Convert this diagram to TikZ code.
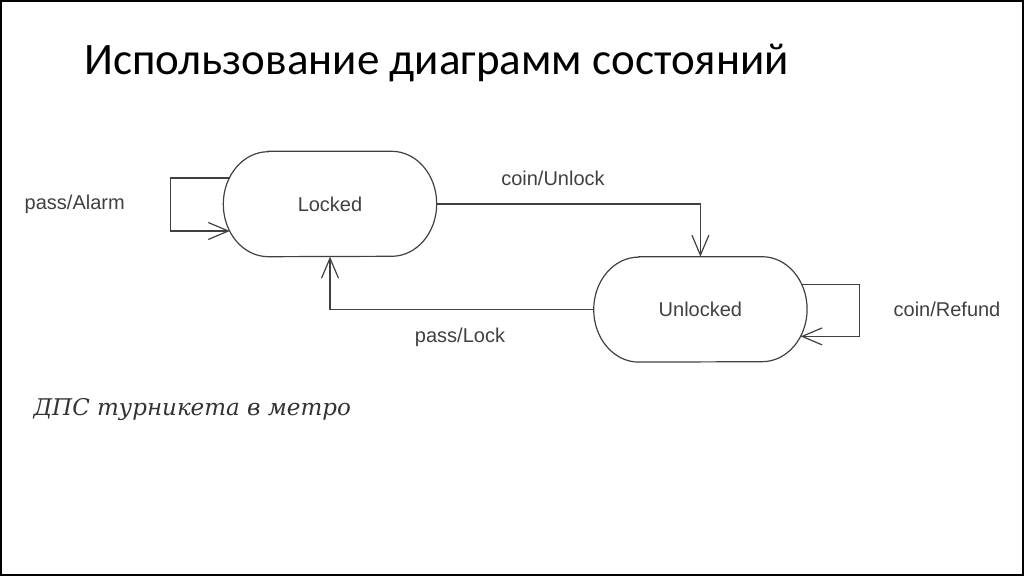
\documentclass[tikz,border=0pt]{standalone}
\usepackage{fontspec}
\setmainfont{Liberation Sans}
\newfontfamily\titlefont{Carlito}
\newfontfamily\capfont{DejaVu Serif}
\usetikzlibrary{positioning}
\usetikzlibrary{arrows.meta}

\tikzset{
	state/.style={minimum width=213pt, minimum height=105pt, inner sep=0pt, font=\fontsize{20}{24}\selectfont, text=black!75},
	border/.style={draw=black!75, line width=1.2pt},
	trans/.style={draw=black!75, line width=1.2pt, -{Straight Barb[length=20pt, width=17pt, line width=1.2pt]}},
	lbl/.style={font=\fontsize{20}{24}\selectfont, text=black!75},
}

\begin{document}
\begin{tikzpicture}[x=1pt, y=1pt]
		\draw[line width=2pt] (1,1) rectangle (1023,575);
		\node[anchor=base west, font=\titlefont\fontsize{45}{50}\selectfont] (title) at (81,501) {Использование диаграмм состояний};
		
		\node[state] (L) at (330,372) {Locked};
		\node[state, below right = 0pt and 157pt of L] (U) {Unlocked};
		\foreach \s in {L,U}
			\draw[border] ([xshift=45pt]\s.north west) -- ([xshift=-45pt]\s.north east) arc[start angle=90, end angle=-90, x radius=45pt, y radius=52.5pt] -- ([xshift=45pt]\s.south west) arc[start angle=270, end angle=90, x radius=45pt, y radius=52.5pt] -- cycle;
		
		\node[lbl] (cu) at (553,398) {coin/Unlock};
		\node[lbl] (pl) at (460,239) {pass/Lock};
		\node[lbl, left = 95pt of L] (pa) {pass/Alarm};
		\node[lbl, right = 83pt of U] (cr) {coin/Refund};
		
		\coordinate (la) at ([xshift=6.5pt, yshift=26pt]L.west);
		\coordinate (lb) at ([xshift=6.5pt, yshift=-27pt]L.west);
		\coordinate (ra) at ([xshift=-5.5pt, yshift=25pt]U.east);
		\coordinate (rb) at ([xshift=-6.5pt, yshift=-27pt]U.east);
		
		\draw[trans] (L.east) -| (U.north);
		\draw[trans] (U.west) -| (L.south);
		\draw[trans] (la) -- ++(-59pt,0) |- (lb);
		\draw[trans] (ra) -- ++(58pt,0) |- (rb);
		
		\node[anchor=base west, font=\capfont\itshape\fontsize{23}{28}\selectfont, text=black!80] (cap) at (30,161) {ДПС турникета в метро};
	\end{tikzpicture}
\end{document}
